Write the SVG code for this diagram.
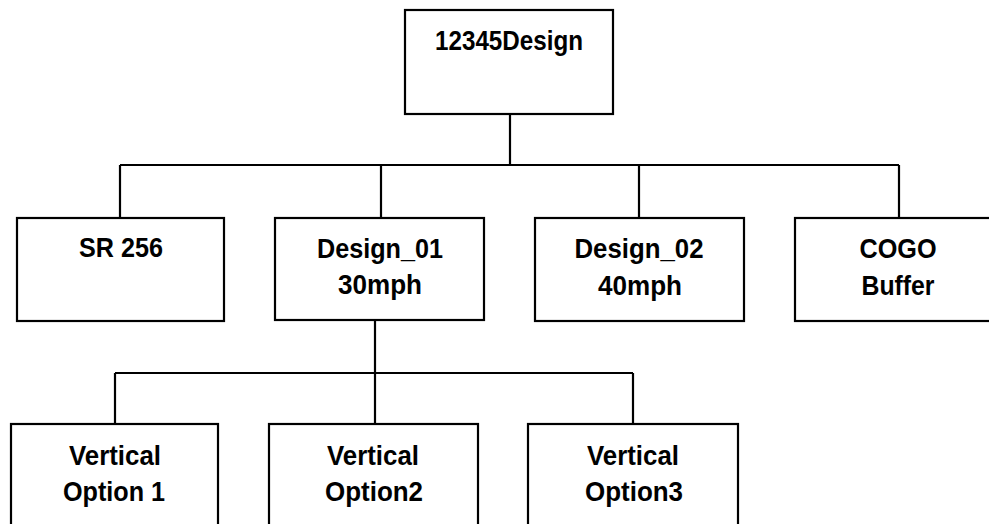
<svg xmlns="http://www.w3.org/2000/svg" width="989" height="524" viewBox="0 0 989 524">
<style>
.box{fill:#fff;stroke:#000;stroke-width:2.2}
.ln{fill:none;stroke:#000;stroke-width:2.2}
text{font-family:"Liberation Sans",Arial,sans-serif;font-weight:bold;font-size:28px;fill:#000;text-anchor:middle}
</style>
<rect width="989" height="524" fill="#fff"/>
<g id="connectors">
<path class="ln" d="M510 114V165M120 165H899M120 165V218M381 165V218M639 165V218M899 165V218"/>
<path class="ln" d="M375 321V373M115 373H633M115 373V424M375 373V424M633 373V424"/>
</g>
<g id="n-root"><rect class="box" x="405" y="10" width="208" height="104"/><text x="509" y="50" textLength="148" lengthAdjust="spacingAndGlyphs">12345Design</text></g>
<g id="n-sr256"><rect class="box" x="17" y="218" width="207" height="103"/><text x="121" y="257" textLength="84" lengthAdjust="spacingAndGlyphs">SR 256</text></g>
<g id="n-design01"><rect class="box" x="275" y="218" width="209" height="102"/><text x="380" y="258" textLength="126" lengthAdjust="spacingAndGlyphs">Design_01</text><text x="380" y="294" textLength="84" lengthAdjust="spacingAndGlyphs">30mph</text></g>
<g id="n-design02"><rect class="box" x="535" y="218" width="209" height="103"/><text x="639" y="258" textLength="129" lengthAdjust="spacingAndGlyphs">Design_02</text><text x="640" y="295" textLength="84" lengthAdjust="spacingAndGlyphs">40mph</text></g>
<g id="n-cogo"><rect class="box" x="795" y="218" width="210" height="103"/><text x="898" y="258" textLength="77" lengthAdjust="spacingAndGlyphs">COGO</text><text x="898" y="295" textLength="73" lengthAdjust="spacingAndGlyphs">Buffer</text></g>
<g id="n-vopt1"><rect class="box" x="11" y="424" width="207" height="110"/><text x="115" y="465" textLength="92" lengthAdjust="spacingAndGlyphs">Vertical</text><text x="114" y="501" textLength="102" lengthAdjust="spacingAndGlyphs">Option 1</text></g>
<g id="n-vopt2"><rect class="box" x="269" y="424" width="209" height="110"/><text x="373" y="465" textLength="92" lengthAdjust="spacingAndGlyphs">Vertical</text><text x="374" y="501" textLength="98" lengthAdjust="spacingAndGlyphs">Option2</text></g>
<g id="n-vopt3"><rect class="box" x="528" y="424" width="210" height="110"/><text x="633" y="465" textLength="92" lengthAdjust="spacingAndGlyphs">Vertical</text><text x="634" y="501" textLength="98" lengthAdjust="spacingAndGlyphs">Option3</text></g>
</svg>
